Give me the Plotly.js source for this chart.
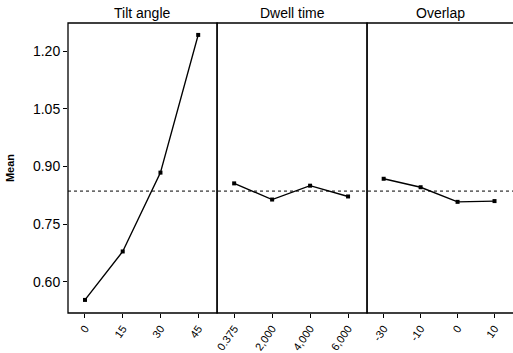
<!DOCTYPE html>
<html><head><meta charset="utf-8">
<script src="https://cdn.plot.ly/plotly-3.0.1.min.js"></script>
<style>html,body{margin:0;padding:0;background:#fff}#c{width:513px;height:353px}</style>
</head><body><div id="c"></div>
<script>
const panelTitles = ["Tilt angle", "Dwell time", "Overlap"];
const tiltLevels = ["0", "15", "30", "45"];
const tiltMeans = [0.553, 0.679, 0.884, 1.242];
const dwellLevels = ["0.375", "2,000", "4,000", "6,000"];
const dwellMeans = [0.856, 0.814, 0.850, 0.822];
const overlapLevels = ["-30", "-10", "0", "10"];
const overlapMeans = [0.868, 0.846, 0.808, 0.810];
const yTicks = [0.60, 0.75, 0.90, 1.05, 1.20];

const grand = (tiltMeans.reduce((a,b)=>a+b,0)+dwellMeans.reduce((a,b)=>a+b,0)+overlapMeans.reduce((a,b)=>a+b,0))/3/4;

const levels = [tiltLevels, dwellLevels, overlapLevels];
const means = [tiltMeans, dwellMeans, overlapMeans];
const axn = ["", "2", "3"];
const domains = [[0, 0.335], [0.335, 0.672], [0.672, 1]];
const narrow = "Liberation Sans Narrow, Liberation Sans, Arial";
const font = {family: narrow, size: 12, color: "#000"};

const traces = levels.map((lv, i) => ({
  type: "scatter", mode: "lines+markers",
  x: lv, y: means[i],
  xaxis: "x" + axn[i], yaxis: "y",
  line: {color: "#000", width: 1.4},
  marker: {symbol: "square", size: 4, color: "#000"},
  showlegend: false, hoverinfo: "skip"
}));

const layout = {
  width: 513, height: 353,
  margin: {l: 68, r: 0, t: 23, b: 40},
  paper_bgcolor: "#fff", plot_bgcolor: "#fff",
  font: font, showlegend: false,
  yaxis: {
    range: [0.519, 1.273], tickvals: yTicks,
    ticktext: yTicks.map(v => v.toFixed(2)),
    ticks: "outside", ticklen: 4, tickcolor: "#000",
    showgrid: false, zeroline: false, showline: false,
    tickfont: {family: narrow, size: 14},
    title: {text: "<b>Mean</b>", font: {family: "Liberation Sans, Arial", size: 11}, standoff: 16}
  },
  shapes: [],
  annotations: []
};
levels.forEach((lv, i) => {
  layout["xaxis" + axn[i]] = {
    domain: domains[i], anchor: "y", type: "category",
    categoryorder: "array", categoryarray: lv,
    range: [-0.45, 3.5],
    tickangle: -55, ticks: "outside", ticklen: 4, tickcolor: "#000",
    showgrid: false, zeroline: false, showline: false,
    tickfont: {family: narrow, size: 11}
  };
  const xr = "x" + axn[i] + " domain";
  layout.shapes.push({type: "rect", xref: xr, yref: "y domain", x0: 0, x1: i === 2 ? 1.02 : 1, y0: 0, y1: 1,
    line: {color: "#000", width: 1.3}, fillcolor: "rgba(0,0,0,0)", layer: "above"});
  layout.annotations.push({text: panelTitles[i], xref: xr, yref: "paper", x: 0.5, y: 1,
    xanchor: "center", yanchor: "bottom", showarrow: false,
    font: {family: narrow, size: 14}});
});
layout.shapes.push({type: "line", xref: "paper", yref: "y", x0: 0, x1: 1, y0: grand, y1: grand,
  line: {color: "#000", width: 1, dash: "dot"}});

Plotly.newPlot("c", traces, layout, {staticPlot: true, displayModeBar: false});
</script></body></html>
